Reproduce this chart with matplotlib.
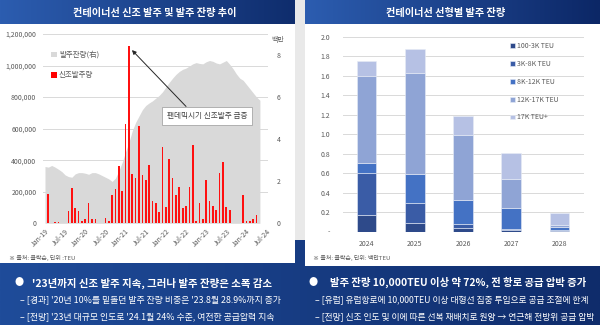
import numpy as np
import matplotlib
matplotlib.use('Agg')
import matplotlib.pyplot as plt
from matplotlib.colors import LinearSegmentedColormap
from matplotlib.patches import Patch, Rectangle
from matplotlib.ticker import FuncFormatter

plt.rcParams['font.family'] = ['Noto Sans CJK KR', 'DejaVu Sans']

# left chart: monthly new orders (TEU) and orderbook (million TEU), Jan-19 ..
new_orders = [5000, 183000, 5000, 10000, 10000, 0, 0, 79000, 221000, 98000,
              81000, 17000, 28000, 126000, 26000, 26000, 3000, 0, 34000, 17000,
              181000, 219000, 365000, 207000, 630000, 1125000, 310000, 285000, 615000, 306000,
              274000, 371000, 143000, 127000, 70000, 484000, 105000, 407000, 285000, 179000,
              232000, 97000, 112000, 228000, 496000, 13000, 127000, 29000, 274000, 141000,
              112000, 84000, 321000, 388000, 103000, 82000, 3000, 0, 0, 181000,
              15000, 15000, 30000, 51000]
orderbook = [2.70, 2.67, 2.75, 2.67, 2.57, 2.46, 2.30, 2.22, 2.19, 2.35,
             2.41, 2.41, 2.38, 2.33, 2.41, 2.41, 2.35, 2.27, 2.19, 2.11,
             1.99, 2.15, 2.50, 2.90, 3.40, 3.85, 4.40, 4.80, 5.10, 5.40,
             5.60, 5.72, 5.82, 5.95, 6.08, 6.25, 6.48, 6.70, 6.90, 7.08,
             7.22, 7.32, 7.38, 7.48, 7.58, 7.64, 7.60, 7.58, 7.68, 7.74,
             7.70, 7.62, 7.58, 7.66, 7.74, 7.56, 7.35, 7.10, 6.90, 6.80,
             6.60, 6.40, 6.20, 6.00, 5.85]
month_ticks = ['Jan-19', 'Jul-19', 'Jan-20', 'Jul-20', 'Jan-21', 'Jul-21',
               'Jan-22', 'Jul-22', 'Jan-23', 'Jul-23', 'Jan-24', 'Jul-24']

# right chart: orderbook by size (million TEU)
years = ['2024', '2025', '2026', '2027', '2028']
sizes = ['100-3K TEU', '3K-8K TEU', '8K-12K TEU', '12K-17K TEU', '17K TEU+']
size_100_3k = [0.17, 0.085, 0.035, 0.015, 0.005]
size_3k_8k = [0.43, 0.205, 0.04, 0.01, 0.01]
size_8k_12k = [0.10, 0.30, 0.25, 0.22, 0.03]
size_12k_17k = [0.90, 1.035, 0.67, 0.295, 0.027]
size_17k_up = [0.15, 0.245, 0.195, 0.265, 0.12]
size_colors = ['#2e4a8a', '#3a5ca6', '#4472c4', '#8fa4d5', '#b6c1e4']

W, H = 600, 325
fig = plt.figure(figsize=(6, 3.25), dpi=100)
fig.patch.set_facecolor('#e9e9e9')

bg = fig.add_axes([0, 0, 1, 1], zorder=0)
bg.axis('off')


def gradient(x0, x1, y0, y1, c0, c1):
    cmap = LinearSegmentedColormap.from_list('g', [c0, c1])
    bg.imshow(np.linspace(0, 1, 256).reshape(1, -1), cmap=cmap,
              extent=(x0, x1, y1, y0), aspect='auto', zorder=1)


gradient(0, W, 240, H, '#1f4c9a', '#0f2c6b')
bg.add_patch(Rectangle((0, 24), 295, 239, fc='white', ec='none', zorder=2))
bg.add_patch(Rectangle((305, 24), 295, 242, fc='white', ec='none', zorder=2))
gradient(0, 295, 0, 24, '#2c5db0', '#0f2d6d')
gradient(305, 600, 0, 24, '#2c5db0', '#0c2766')
bg.set_xlim(0, W)
bg.set_ylim(H, 0)

bg.text(155, 13, '컨테이너선 신조 발주 및 발주 잔량 추이', color='white', fontsize=7.3,
        fontweight='bold', ha='center', va='center', zorder=5)
bg.text(446, 13, '컨테이너선 선형별 발주 잔량', color='white', fontsize=7.3,
        fontweight='bold', ha='center', va='center', zorder=5)

bg.text(9, 258, '※ 출처: 클락슨, 단위 :TEU', fontsize=4.3, color='#595959', va='center', zorder=5)
bg.text(313, 258, '※ 출처: 클락슨, 단위: 백만TEU', fontsize=4.3, color='#595959', va='center', zorder=5)

# bottom comments
bg.text(19, 283, '●', color='white', fontsize=6.5, ha='center', va='center', zorder=5)
bg.text(32, 283, "'23년까지 신조 발주 지속, 그러나 발주 잔량은 소폭 감소", color='white',
        fontsize=7.5, fontweight='bold', va='center', zorder=5)
bg.text(20, 300, "– [경과] '20년 10%를 밑돌던 발주 잔량 비중은 '23.8월 28.9%까지 증가",
        color='white', fontsize=6.4, va='center', zorder=5)
bg.text(20, 316.5, "– [전망] '23년 대규모 인도로 '24.1월 24% 수준, 여전한 공급압력 지속",
        color='white', fontsize=6.4, va='center', zorder=5)
bg.text(313, 282, '●', color='white', fontsize=6.5, ha='center', va='center', zorder=5)
bg.text(330, 282, '발주 잔량 10,000TEU 이상 약 72%, 전 항로 공급 압박 증가', color='white',
        fontsize=7.45, fontweight='bold', va='center', zorder=5)
bg.text(315, 300, '– [유럽] 유럽항로에 10,000TEU 이상 대형선 집중 투입으로 공급 조절에 한계',
        color='white', fontsize=6.3, va='center', zorder=5)
bg.text(315, 316.5, '– [전망] 신조 인도 및 이에 따른 선복 재배치로 원양 → 연근해 전방위 공급 압박',
        color='white', fontsize=6.3, va='center', zorder=5)

# ---- left chart ----
pos_l = [43.3 / W, 1 - 223.3 / H, 225 / W, 189.3 / H]
n_months = 67
ax_g = fig.add_axes(pos_l, zorder=2)
ax_a = fig.add_axes(pos_l, zorder=3)
ax_b = fig.add_axes(pos_l, zorder=4)
for a in (ax_g, ax_a, ax_b):
    a.patch.set_visible(False)
    a.set_xlim(-0.5, n_months - 0.5)
    for s in a.spines.values():
        s.set_visible(False)
    a.tick_params(length=0)

ax_g.set_ylim(0, 1200000)
ax_g.set_yticks(np.arange(0, 1200001, 200000))
ax_g.yaxis.set_major_formatter(FuncFormatter(lambda v, p: f'{int(v):,}'))
ax_g.grid(axis='y', color='#d9d9d9', lw=0.7)
ax_g.tick_params(axis='y', labelsize=5, labelcolor='#595959', pad=5)
ax_g.set_xticks(np.arange(0, n_months, 6))
ax_g.set_xticklabels(month_ticks, rotation=45, ha='right', rotation_mode='anchor',
                     fontsize=5, color='#595959')
ax_g.tick_params(axis='x', pad=3)

ax_a.fill_between(np.arange(len(orderbook)), orderbook, color='#d9d9d9', lw=0)
ax_a.set_ylim(0, 9)
ax_a.set_yticks([0, 2, 4, 6, 8])
ax_a.yaxis.tick_right()
ax_a.tick_params(axis='y', labelsize=5, labelcolor='#595959', pad=6)
ax_a.set_xticks([])
ax_a.text(1.015, 0.97, '백만', transform=ax_a.transAxes, fontsize=5, color='#595959',
          va='center', ha='left')

ax_b.bar(np.arange(len(new_orders)), new_orders, width=0.5, color='#ff1010', lw=0)
ax_b.set_ylim(0, 1200000)
ax_b.set_xticks([])
ax_b.set_yticks([])
ax_b.legend(handles=[Patch(fc='#d9d9d9'), Patch(fc='#ff0000')],
            labels=['발주잔량(右)', '신조발주량'], loc='upper left',
            bbox_to_anchor=(51, 51), bbox_transform=bg.transData, frameon=False,
            fontsize=5.4, labelcolor='#595959', handlelength=0.75, handleheight=0.75,
            handletextpad=0.3, labelspacing=1.65, borderpad=0, borderaxespad=0)
ax_b.annotate('팬데믹시기 신조발주 급증', xy=(25.9, 1098000), xytext=(48.3, 682000),
              fontsize=5.5, color='#404040', ha='center', va='center',
              bbox=dict(boxstyle='square,pad=0.65', fc='white', ec='#a6a6a6', lw=0.6),
              arrowprops=dict(arrowstyle='-|>', color='#262626', lw=0.7,
                              mutation_scale=6, relpos=(0.3, 1.0), shrinkA=0, shrinkB=0))

# ---- right chart ----
pos_r = [342.5 / W, 1 - 231.7 / H, 241 / W, 195 / H]
ax_r = fig.add_axes(pos_r, zorder=2)
ax_r.patch.set_visible(False)
x = np.arange(len(years))
bottom = np.zeros(len(years))
for vals, lab, col in zip([size_100_3k, size_3k_8k, size_8k_12k, size_12k_17k, size_17k_up],
                          sizes, size_colors):
    ax_r.bar(x, vals, bottom=bottom, width=0.41, color=col, edgecolor='#e8ecf6',
             lw=0.4, label=lab, zorder=3)
    bottom += np.array(vals)
ax_r.set_xlim(-0.5, 4.5)
ax_r.set_ylim(0, 2.0)
ax_r.set_yticks(np.arange(0, 2.01, 0.2))
ax_r.set_yticklabels(['-'] + [f'{v:.1f}' for v in np.arange(0.2, 2.01, 0.2)])
ax_r.set_xticks(x)
ax_r.set_xticklabels(years)
ax_r.grid(axis='y', color='#d9d9d9', lw=0.7, zorder=0)
ax_r.set_axisbelow(True)
for s in ax_r.spines.values():
    s.set_visible(False)
ax_r.tick_params(length=0, labelsize=5, labelcolor='#595959')
ax_r.tick_params(axis='y', pad=9)
ax_r.tick_params(axis='x', pad=6)
ax_r.legend(loc='upper left', bbox_to_anchor=(510, 42), bbox_transform=bg.transData,
            frameon=False, fontsize=5, labelcolor='#595959', handlelength=0.7,
            handleheight=0.7, handletextpad=0.35, labelspacing=1.42,
            borderpad=0, borderaxespad=0)

fig.savefig('out.png', dpi=100)
